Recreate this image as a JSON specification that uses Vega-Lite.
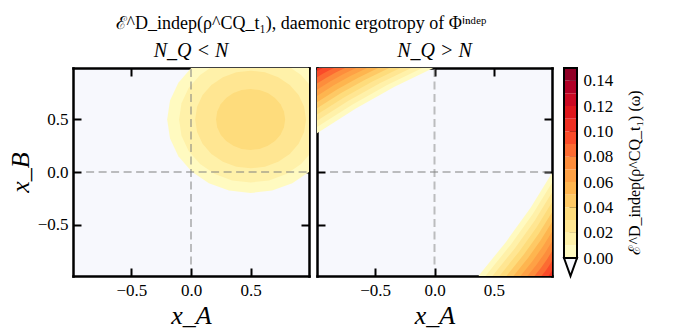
{
  "$schema": "https://vega.github.io/schema/vega-lite/v6.json",
  "padding": {"left": 7, "top": 15, "right": 5, "bottom": 5},
  "background": "white",
  "title": {"text": "ℰ^D_indep(ρ^CQ_t₁), daemonic ergotropy of Φⁱⁿᵈᵉᵖ", "fontSize": 18, "dx": -24, "offset": 8},
  "config": {
    "view": {"stroke": null},
    "font": "Liberation Serif",
    "axis": {"grid": false, "domain": true, "domainColor": "black", "domainWidth": 2.5, "domainCap": "square", "tickColor": "black", "tickWidth": 2, "tickSize": -8, "labelFont": "Liberation Serif", "labelFontSize": 17, "labelColor": "black", "labelPadding": 13, "labelOverlap": false, "titleFont": "Liberation Serif", "titleFontSize": 26, "titleFontWeight": "normal", "titleFontStyle": "italic", "titleColor": "black", "zindex": 1},
    "axisX": {"labelPadding": 14},
    "title": {"font": "Liberation Serif", "fontWeight": "normal", "color": "black", "anchor": "middle"}
  },
  "datasets": {
    "rings": [
      {"lvl": 0.005, "x": -0.2, "hi": 0.5, "lo": 0.5},
      {"lvl": 0.005, "x": -0.176, "hi": 0.681, "lo": 0.319},
      {"lvl": 0.005, "x": -0.106, "hi": 0.85, "lo": 0.15},
      {"lvl": 0.005, "x": 0.005, "hi": 0.995, "lo": 0.005},
      {"lvl": 0.005, "x": 0.15, "hi": 1.106, "lo": -0.106},
      {"lvl": 0.005, "x": 0.319, "hi": 1.176, "lo": -0.176},
      {"lvl": 0.005, "x": 0.5, "hi": 1.2, "lo": -0.2},
      {"lvl": 0.005, "x": 0.681, "hi": 1.176, "lo": -0.176},
      {"lvl": 0.005, "x": 0.85, "hi": 1.106, "lo": -0.106},
      {"lvl": 0.005, "x": 0.995, "hi": 0.995, "lo": 0.005},
      {"lvl": 0.005, "x": 1.106, "hi": 0.85, "lo": 0.15},
      {"lvl": 0.005, "x": 1.176, "hi": 0.681, "lo": 0.319},
      {"lvl": 0.005, "x": 1.2, "hi": 0.5, "lo": 0.5},
      {"lvl": 0.015, "x": -0.1, "hi": 0.5, "lo": 0.5},
      {"lvl": 0.015, "x": -0.08, "hi": 0.655, "lo": 0.345},
      {"lvl": 0.015, "x": -0.02, "hi": 0.8, "lo": 0.2},
      {"lvl": 0.015, "x": 0.076, "hi": 0.924, "lo": 0.076},
      {"lvl": 0.015, "x": 0.2, "hi": 1.02, "lo": -0.02},
      {"lvl": 0.015, "x": 0.345, "hi": 1.08, "lo": -0.08},
      {"lvl": 0.015, "x": 0.5, "hi": 1.1, "lo": -0.1},
      {"lvl": 0.015, "x": 0.655, "hi": 1.08, "lo": -0.08},
      {"lvl": 0.015, "x": 0.8, "hi": 1.02, "lo": -0.02},
      {"lvl": 0.015, "x": 0.924, "hi": 0.924, "lo": 0.076},
      {"lvl": 0.015, "x": 1.02, "hi": 0.8, "lo": 0.2},
      {"lvl": 0.015, "x": 1.08, "hi": 0.655, "lo": 0.345},
      {"lvl": 0.015, "x": 1.1, "hi": 0.5, "lo": 0.5},
      {"lvl": 0.025, "x": 0.035, "hi": 0.5, "lo": 0.5},
      {"lvl": 0.025, "x": 0.051, "hi": 0.62, "lo": 0.38},
      {"lvl": 0.025, "x": 0.097, "hi": 0.732, "lo": 0.268},
      {"lvl": 0.025, "x": 0.171, "hi": 0.829, "lo": 0.171},
      {"lvl": 0.025, "x": 0.268, "hi": 0.903, "lo": 0.097},
      {"lvl": 0.025, "x": 0.38, "hi": 0.949, "lo": 0.051},
      {"lvl": 0.025, "x": 0.5, "hi": 0.965, "lo": 0.035},
      {"lvl": 0.025, "x": 0.62, "hi": 0.949, "lo": 0.051},
      {"lvl": 0.025, "x": 0.732, "hi": 0.903, "lo": 0.097},
      {"lvl": 0.025, "x": 0.829, "hi": 0.829, "lo": 0.171},
      {"lvl": 0.025, "x": 0.903, "hi": 0.732, "lo": 0.268},
      {"lvl": 0.025, "x": 0.949, "hi": 0.62, "lo": 0.38},
      {"lvl": 0.025, "x": 0.965, "hi": 0.5, "lo": 0.5},
      {"lvl": 0.035, "x": 0.21, "hi": 0.5, "lo": 0.5},
      {"lvl": 0.035, "x": 0.22, "hi": 0.575, "lo": 0.425},
      {"lvl": 0.035, "x": 0.249, "hi": 0.645, "lo": 0.355},
      {"lvl": 0.035, "x": 0.295, "hi": 0.705, "lo": 0.295},
      {"lvl": 0.035, "x": 0.355, "hi": 0.751, "lo": 0.249},
      {"lvl": 0.035, "x": 0.425, "hi": 0.78, "lo": 0.22},
      {"lvl": 0.035, "x": 0.5, "hi": 0.79, "lo": 0.21},
      {"lvl": 0.035, "x": 0.575, "hi": 0.78, "lo": 0.22},
      {"lvl": 0.035, "x": 0.645, "hi": 0.751, "lo": 0.249},
      {"lvl": 0.035, "x": 0.705, "hi": 0.705, "lo": 0.295},
      {"lvl": 0.035, "x": 0.751, "hi": 0.645, "lo": 0.355},
      {"lvl": 0.035, "x": 0.78, "hi": 0.575, "lo": 0.425},
      {"lvl": 0.035, "x": 0.79, "hi": 0.5, "lo": 0.5}
    ],
    "tl": [
      {"lvl": 0.005, "x": -0.99, "y": 0.37}, {"lvl": 0.005, "x": -0.663, "y": 0.604}, {"lvl": 0.005, "x": -0.337, "y": 0.811}, {"lvl": 0.005, "x": -0.01, "y": 0.99},
      {"lvl": 0.015, "x": -0.99, "y": 0.429}, {"lvl": 0.015, "x": -0.694, "y": 0.641}, {"lvl": 0.015, "x": -0.399, "y": 0.828}, {"lvl": 0.015, "x": -0.103, "y": 0.99},
      {"lvl": 0.025, "x": -0.99, "y": 0.488}, {"lvl": 0.025, "x": -0.725, "y": 0.678}, {"lvl": 0.025, "x": -0.461, "y": 0.845}, {"lvl": 0.025, "x": -0.196, "y": 0.99},
      {"lvl": 0.035, "x": -0.99, "y": 0.547}, {"lvl": 0.035, "x": -0.756, "y": 0.714}, {"lvl": 0.035, "x": -0.523, "y": 0.862}, {"lvl": 0.035, "x": -0.289, "y": 0.99},
      {"lvl": 0.045, "x": -0.99, "y": 0.606}, {"lvl": 0.045, "x": -0.787, "y": 0.751}, {"lvl": 0.045, "x": -0.585, "y": 0.879}, {"lvl": 0.045, "x": -0.382, "y": 0.99},
      {"lvl": 0.055, "x": -0.99, "y": 0.665}, {"lvl": 0.055, "x": -0.818, "y": 0.788}, {"lvl": 0.055, "x": -0.647, "y": 0.896}, {"lvl": 0.055, "x": -0.475, "y": 0.99},
      {"lvl": 0.065, "x": -0.99, "y": 0.724}, {"lvl": 0.065, "x": -0.849, "y": 0.825}, {"lvl": 0.065, "x": -0.709, "y": 0.913}, {"lvl": 0.065, "x": -0.568, "y": 0.99},
      {"lvl": 0.075, "x": -0.99, "y": 0.783}, {"lvl": 0.075, "x": -0.88, "y": 0.861}, {"lvl": 0.075, "x": -0.771, "y": 0.93}, {"lvl": 0.075, "x": -0.661, "y": 0.99},
      {"lvl": 0.085, "x": -0.99, "y": 0.842}, {"lvl": 0.085, "x": -0.911, "y": 0.898}, {"lvl": 0.085, "x": -0.833, "y": 0.947}, {"lvl": 0.085, "x": -0.754, "y": 0.99},
      {"lvl": 0.095, "x": -0.99, "y": 0.901}, {"lvl": 0.095, "x": -0.942, "y": 0.935}, {"lvl": 0.095, "x": -0.895, "y": 0.964}, {"lvl": 0.095, "x": -0.847, "y": 0.99},
      {"lvl": 0.105, "x": -0.99, "y": 0.96}, {"lvl": 0.105, "x": -0.973, "y": 0.971}, {"lvl": 0.105, "x": -0.957, "y": 0.981}, {"lvl": 0.105, "x": -0.94, "y": 0.99}
    ],
    "cb": [
      {"lo": 0, "hi": 0.01}, {"lo": 0.01, "hi": 0.02}, {"lo": 0.02, "hi": 0.03}, {"lo": 0.03, "hi": 0.04}, {"lo": 0.04, "hi": 0.05},
      {"lo": 0.05, "hi": 0.06}, {"lo": 0.06, "hi": 0.07}, {"lo": 0.07, "hi": 0.08}, {"lo": 0.08, "hi": 0.09}, {"lo": 0.09, "hi": 0.1},
      {"lo": 0.1, "hi": 0.11}, {"lo": 0.11, "hi": 0.12}, {"lo": 0.12, "hi": 0.13}, {"lo": 0.13, "hi": 0.14}, {"lo": 0.14, "hi": 0.15}
    ],
    "tri": [
      {"tx": 0, "ty": 0}, {"tx": 0.5, "ty": -0.0142}, {"tx": 1, "ty": 0}
    ]
  },
  "spacing": 7,
  "hconcat": [
    {
      "spacing": 6,
      "hconcat": [
        {
          "width": 236, "height": 208,
          "title": {"text": "N_Q < N", "fontSize": 20, "fontStyle": "italic", "offset": 6},
          "view": {"fill": "#f7f8fd", "stroke": null},
          "layer": [
            {
              "data": {"name": "rings"},
              "mark": {"type": "area", "clip": true},
              "encoding": {
                "x": {"field": "x", "type": "quantitative", "scale": {"domain": [-0.99, 0.99], "nice": false, "zero": false}, "axis": {"orient": "bottom", "values": [-0.5, 0, 0.5], "format": ".1f", "title": "x_A"}},
                "y": {"field": "hi", "type": "quantitative", "stack": null, "scale": {"domain": [-0.99, 0.99], "nice": false, "zero": false}, "axis": {"orient": "left", "values": [-0.5, 0, 0.5], "format": ".1f", "title": "x_B"}},
                "y2": {"field": "lo"},
                "color": {"field": "lvl", "type": "quantitative", "legend": null, "scale": {"type": "threshold", "domain": [0.01, 0.02, 0.03, 0.04, 0.05, 0.06, 0.07, 0.08, 0.09, 0.1, 0.11, 0.12, 0.13, 0.14], "range": ["#fffac0", "#fff1a9", "#ffe692", "#fedc7c", "#fec965", "#feb54f", "#fea145", "#fd8d3c", "#fc6b32", "#fa4b29", "#ed2f22", "#de171d", "#ca0923", "#b10026", "#900026"]}}
              }
            },
            {
              "data": {"values": [{}]},
              "mark": {"type": "rule", "color": "gray", "opacity": 0.5, "strokeWidth": 2, "strokeDash": [8, 4.5]},
              "encoding": {"x": {"datum": -0.88, "axis": null}, "x2": {"datum": 0.99}, "y": {"datum": 0, "axis": null}}
            },
            {
              "data": {"values": [{}]},
              "mark": {"type": "rule", "color": "gray", "opacity": 0.5, "strokeWidth": 2, "strokeDash": [8, 4.5]},
              "encoding": {
                "x": {"datum": 0, "axis": {"orient": "top", "values": [-0.5, 0, 0.5], "labels": false, "title": null}},
                "y": {"datum": -0.88, "axis": {"orient": "right", "values": [-0.5, 0, 0.5], "labels": false, "title": null}},
                "y2": {"datum": 0.99}
              }
            }
          ],
          "resolve": {"axis": {"x": "independent", "y": "independent"}}
        },
        {
          "width": 235, "height": 208,
          "title": {"text": "N_Q > N", "fontSize": 20, "fontStyle": "italic", "offset": 6},
          "view": {"fill": "#f7f8fd", "stroke": null},
          "layer": [
            {
              "data": {"name": "tl"},
              "mark": {"type": "area", "clip": true},
              "encoding": {
                "x": {"field": "x", "type": "quantitative", "scale": {"domain": [-0.99, 0.99], "nice": false, "zero": false}, "axis": {"orient": "bottom", "values": [-0.5, 0, 0.5], "format": ".1f", "title": "x_A"}},
                "y": {"field": "y", "type": "quantitative", "stack": null, "scale": {"domain": [-0.99, 0.99], "nice": false, "zero": false}, "axis": {"orient": "left", "values": [-0.5, 0, 0.5], "labels": false, "title": null}},
                "y2": {"datum": 0.99},
                "color": {"field": "lvl", "type": "quantitative", "legend": null, "scale": {"type": "threshold", "domain": [0.01, 0.02, 0.03, 0.04, 0.05, 0.06, 0.07, 0.08, 0.09, 0.1, 0.11, 0.12, 0.13, 0.14], "range": ["#fffac0", "#fff1a9", "#ffe692", "#fedc7c", "#fec965", "#feb54f", "#fea145", "#fd8d3c", "#fc6b32", "#fa4b29", "#ed2f22", "#de171d", "#ca0923", "#b10026", "#900026"]}}
              }
            },
            {
              "data": {"name": "tl"},
              "mark": {"type": "area", "clip": true},
              "encoding": {
                "x": {"field": "y", "type": "quantitative", "axis": null},
                "y": {"field": "x", "type": "quantitative", "stack": null, "axis": null},
                "y2": {"datum": -0.99},
                "color": {"field": "lvl", "type": "quantitative", "legend": null, "scale": {"type": "threshold", "domain": [0.01, 0.02, 0.03, 0.04, 0.05, 0.06, 0.07, 0.08, 0.09, 0.1, 0.11, 0.12, 0.13, 0.14], "range": ["#fffac0", "#fff1a9", "#ffe692", "#fedc7c", "#fec965", "#feb54f", "#fea145", "#fd8d3c", "#fc6b32", "#fa4b29", "#ed2f22", "#de171d", "#ca0923", "#b10026", "#900026"]}}
              }
            },
            {
              "data": {"values": [{}]},
              "mark": {"type": "rule", "color": "gray", "opacity": 0.5, "strokeWidth": 2, "strokeDash": [8, 4.5]},
              "encoding": {"x": {"datum": -0.88, "axis": null}, "x2": {"datum": 0.99}, "y": {"datum": 0, "axis": null}}
            },
            {
              "data": {"values": [{}]},
              "mark": {"type": "rule", "color": "gray", "opacity": 0.5, "strokeWidth": 2, "strokeDash": [8, 4.5]},
              "encoding": {
                "x": {"datum": 0, "axis": {"orient": "top", "values": [-0.5, 0, 0.5], "labels": false, "title": null}},
                "y": {"datum": -0.88, "axis": {"orient": "right", "values": [-0.5, 0, 0.5], "labels": false, "title": null}},
                "y2": {"datum": 0.99}
              }
            }
          ],
          "resolve": {"axis": {"x": "independent", "y": "independent"}}
        }
      ]
    },
    {
      "width": 13, "height": 208,
      "title": {"text": " ", "fontSize": 20, "fontStyle": "italic", "offset": 6},
      "resolve": {"axis": {"y": "independent"}},
      "layer": [
        {
          "data": {"name": "cb"},
          "mark": {"type": "rect"},
          "encoding": {
            "y": {"field": "lo", "type": "quantitative", "scale": {"domain": [-0.0142, 0.15], "nice": false, "zero": false}, "axis": {"orient": "right", "values": [0, 0.02, 0.04, 0.06, 0.08, 0.1, 0.12, 0.14], "format": ".2f", "domain": false, "tickSize": -8, "labelPadding": 14, "labelOverlap": false, "labelSeparation": 0, "labelBound": false, "title": "ℰ^D_indep(ρ^CQ_t₁) (ω)", "titleAngle": 270, "titleFontStyle": "normal", "titleFontSize": 16, "titlePadding": 30}},
            "y2": {"field": "hi"},
            "color": {"field": "lo", "type": "quantitative", "legend": null, "scale": {"type": "threshold", "domain": [0.01, 0.02, 0.03, 0.04, 0.05, 0.06, 0.07, 0.08, 0.09, 0.1, 0.11, 0.12, 0.13, 0.14], "range": ["#fffac0", "#fff1a9", "#ffe692", "#fedc7c", "#fec965", "#feb54f", "#fea145", "#fd8d3c", "#fc6b32", "#fa4b29", "#ed2f22", "#de171d", "#ca0923", "#b10026", "#900026"]}}
          }
        },
        {
          "data": {"values": [{}]},
          "mark": {"type": "rect", "fill": "transparent", "stroke": "black", "strokeWidth": 2},
          "encoding": {"y": {"datum": 0, "axis": null}, "y2": {"datum": 0.15}}
        },
        {
          "data": {"name": "tri"},
          "mark": {"type": "area", "fill": "#f7f8fd", "stroke": "black", "strokeWidth": 2, "strokeJoin": "miter"},
          "encoding": {
            "x": {"field": "tx", "type": "quantitative", "scale": {"domain": [0, 1], "nice": false}, "axis": null},
            "y": {"field": "ty", "type": "quantitative", "stack": null, "axis": null},
            "y2": {"datum": 0}
          }
        }
      ]
    }
  ]
}
